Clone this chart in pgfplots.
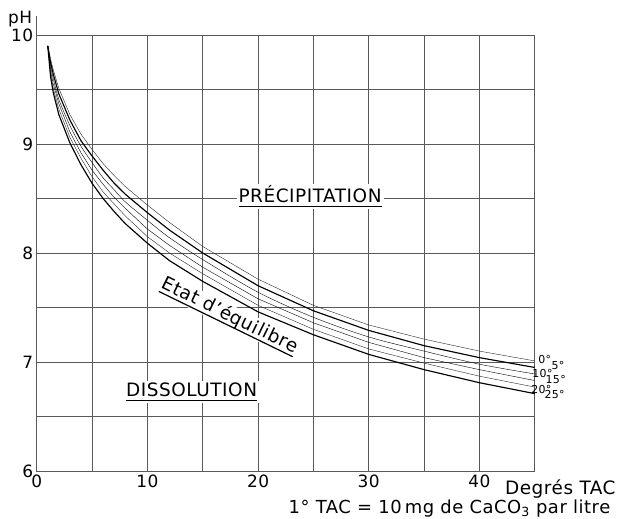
\documentclass[border=0pt]{standalone}
\usepackage{fontspec}
\setmainfont{DejaVu Sans}[LetterSpace=3]
\usepackage{pgfplots}
\pgfplotsset{compat=1.18}

% underline drawn with a fixed gap and thickness
\newcommand\ul[1]{\setbox0\hbox{#1}\rlap{\rule[-4.5bp]{\wd0}{1.2bp}}\box0}

\begin{document}
\begin{tikzpicture}
\useasboundingbox (-36.7bp,-48bp) rectangle (580.3bp,471bp);
\begin{axis}[
    scale only axis,
    width=498bp, height=436bp,
    xmin=0, xmax=45, ymin=6, ymax=10,
    xtick={0,5,...,45}, xticklabels={0,,10,,20,,30,,40,},
    ytick={6,6.5,...,10}, yticklabels={6,,7,,8,,9,,10},
    grid=major,
    grid style={black!65, line width=0.55bp},
    axis line style={black!65, line width=0.55bp},
    major tick length=0pt,
    tick label style={font=\fontsize{17}{20}\selectfont},
    /pgf/number format/assume math mode=true,
    clip=false,
    cycle list={{black!85, line width=1.15bp, smooth, no marks}},
]
% 0 degrees
\addplot coordinates {(1,9.90) (1.25,9.78) (1.5,9.68) (2,9.51) (3,9.27) (4,9.09) (5,8.95) (6,8.82) (7,8.71) (8,8.61) (10,8.44) (12,8.28) (15,8.06) (20,7.76) (25,7.52) (30,7.34) (35,7.21) (40,7.10) (45,7.01)};
% 5 degrees
\addplot coordinates {(1,9.90) (1.25,9.75) (1.5,9.64) (2,9.46) (3,9.22) (4,9.03) (5,8.89) (6,8.76) (7,8.64) (8,8.54) (10,8.37) (12,8.21) (15,8.00) (20,7.70) (25,7.47) (30,7.29) (35,7.15) (40,7.04) (45,6.95)};
% 10 degrees
\addplot coordinates {(1,9.90) (1.25,9.72) (1.5,9.60) (2,9.41) (3,9.17) (4,8.98) (5,8.83) (6,8.69) (7,8.58) (8,8.47) (10,8.30) (12,8.14) (15,7.94) (20,7.64) (25,7.41) (30,7.23) (35,7.10) (40,6.98) (45,6.89)};
% 15 degrees
\addplot coordinates {(1,9.90) (1.25,9.68) (1.5,9.55) (2,9.37) (3,9.11) (4,8.92) (5,8.76) (6,8.63) (7,8.51) (8,8.41) (10,8.22) (12,8.07) (15,7.87) (20,7.58) (25,7.36) (30,7.18) (35,7.04) (40,6.93) (45,6.83)};
% 20 degrees
\addplot coordinates {(1,9.90) (1.25,9.65) (1.5,9.51) (2,9.32) (3,9.06) (4,8.87) (5,8.70) (6,8.56) (7,8.45) (8,8.34) (10,8.15) (12,8.00) (15,7.81) (20,7.52) (25,7.30) (30,7.12) (35,6.99) (40,6.87) (45,6.77)};
% 25 degrees
\addplot coordinates {(1,9.90) (1.25,9.62) (1.5,9.47) (2,9.27) (3,9.01) (4,8.81) (5,8.64) (6,8.50) (7,8.38) (8,8.27) (10,8.09) (12,7.93) (15,7.74) (20,7.46) (25,7.25) (30,7.07) (35,6.93) (40,6.81) (45,6.71)};

\draw[black!65, line width=0.55bp] (axis cs:0,10) -- (axis cs:0,10.17);
\node[anchor=east, xshift=-1bp, yshift=-3bp, font=\fontsize{17}{20}\selectfont] at (axis cs:0,10.17) {pH};

\begin{scope}[every node/.style={font=\fontsize{11}{12}\selectfont, inner sep=0pt}]
\node at (axis cs:45.9,7.02) {0°};
\node at (axis cs:47.1,6.97) {5°};
\node at (axis cs:45.7,6.89) {10°};
\node at (axis cs:46.9,6.84) {15°};
\node at (axis cs:45.6,6.75) {20°};
\node at (axis cs:46.8,6.70) {25°};
\end{scope}

\begin{scope}[every node/.style={font=\fontsize{18.5}{21}\selectfont}]
\node[fill=white, inner sep=2bp, anchor=base] at (axis cs:24.7,8.46) {\ul{PRÉCIPITATION}};
\node[fill=white, inner sep=2bp, anchor=base] at (axis cs:14.0,6.68) {\ul{DISSOLUTION}};
\node[fill=white, inner sep=1bp, anchor=base, rotate=-26] at (axis cs:17.24,7.38) {\ul{Etat d'équilibre}};
\node[anchor=base west, inner sep=0pt, yshift=-23bp] at (axis cs:42.3,6) {Degrés TAC};
\node[anchor=base, inner sep=0pt, yshift=-42bp, font=\fontsize{18}{21}\selectfont] at (axis cs:37.3,6) {1° TAC = 10\,mg de CaCO\textsubscript{3} par litre};
\end{scope}
\end{axis}
\end{tikzpicture}
\end{document}
